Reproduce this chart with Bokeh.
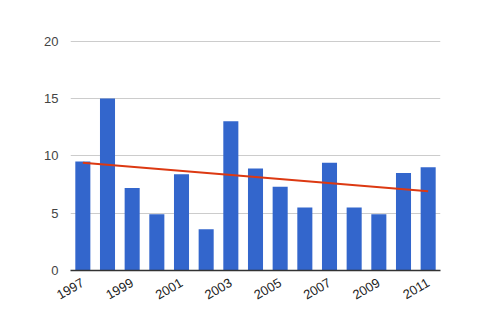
import math
from bokeh.plotting import figure
from bokeh.models import FixedTicker, ColumnDataSource, Range1d
from bokeh.embed import file_html
from bokeh.resources import INLINE

years = [1997, 1998, 1999, 2000, 2001, 2002, 2003, 2004, 2005, 2006, 2007, 2008, 2009, 2010, 2011]
values = [9.5, 15.0, 7.2, 4.9, 8.4, 3.6, 13.0, 8.9, 7.3, 5.5, 9.4, 5.5, 4.9, 8.5, 9.0]
trend_years = [1997, 2011]
trend_values = [9.4, 6.9]
y_ticks = [0, 5, 10, 15, 20]
x_ticks = [1997, 1999, 2001, 2003, 2005, 2007, 2009, 2011]

p = figure(width=495, height=309, output_backend="svg", toolbar_location=None,
           x_range=Range1d(1996.5, 2011.5), y_range=Range1d(0, 20.05),
           min_border_left=70, min_border_right=55, min_border_top=40, min_border_bottom=39)
p.outline_line_color = None
p.background_fill_color = "white"
p.border_fill_color = "white"

src = ColumnDataSource(dict(x=years, top=values))
p.vbar(x="x", top="top", width=0.61, bottom=0, source=src, color="#3366cc", line_color=None)
p.line(trend_years, trend_values, line_color="#dc3912", line_width=2)

p.xgrid.grid_line_color = None
p.ygrid.grid_line_color = "#cccccc"
p.ygrid.ticker = FixedTicker(ticks=y_ticks)

p.yaxis.ticker = FixedTicker(ticks=y_ticks)
p.yaxis.axis_line_color = None
p.yaxis.major_tick_line_color = None
p.yaxis.minor_tick_line_color = None
p.yaxis.major_tick_out = 0
p.yaxis.major_label_standoff = 12
p.yaxis.major_label_text_font = "Liberation Sans"
p.yaxis.major_label_text_font_size = "13px"
p.yaxis.major_label_text_color = "#444444"

p.xaxis.ticker = FixedTicker(ticks=x_ticks)
p.xaxis.axis_line_color = "#333333"
p.xaxis.axis_line_width = 1.5
p.xaxis.major_tick_line_color = None
p.xaxis.minor_tick_line_color = None
p.xaxis.major_tick_out = 0
p.xaxis.major_label_standoff = 11
p.xaxis.major_label_orientation = math.pi / 6
p.xaxis.major_label_text_font = "Liberation Sans"
p.xaxis.major_label_text_font_size = "13px"
p.xaxis.major_label_text_color = "#222222"

open("out.html", "w").write(file_html(p, INLINE))
